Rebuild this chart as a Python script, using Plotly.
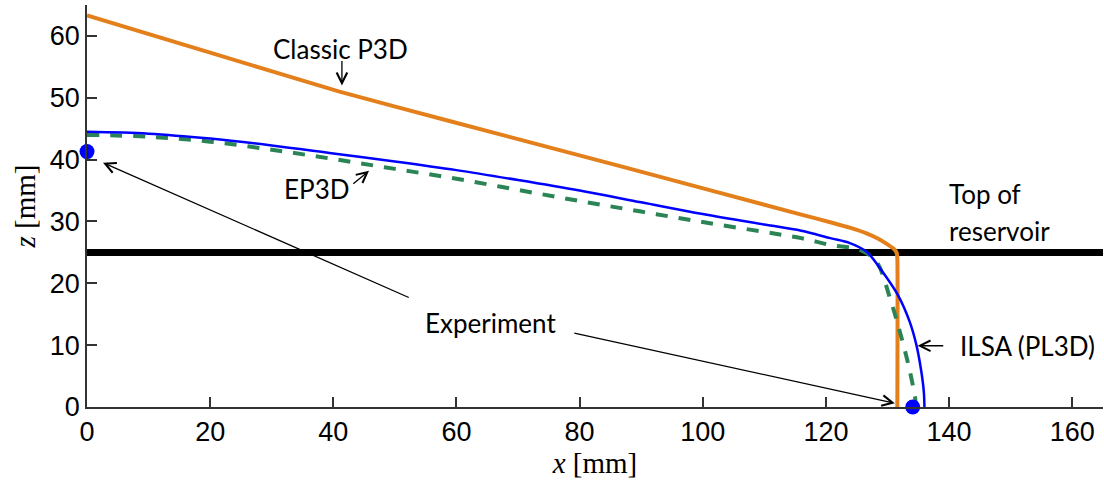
import plotly.graph_objects as go

# ---- data ----
classic_x = [0, 20, 41, 59, 87.5, 116, 121, 124, 126.5, 128.5, 130, 131, 131.5, 131.6, 131.6]
classic_z = [63.3, 57.3, 51.0, 46.2, 38.7, 31.1, 29.8, 28.95, 28.1, 27.2, 26.3, 25.6, 24.9, 24.0, 0]

ilsa_x = [0, 10, 20, 30, 40, 50, 60, 70, 80, 90, 100, 110, 116, 120.7, 123.9, 126.6, 128.8, 131.7, 133.6, 134.7, 135.5, 135.9, 136.0]
ilsa_z = [44.5, 44.2, 43.4, 42.3, 41.0, 39.7, 38.3, 36.7, 35.0, 33.1, 31.2, 29.5, 28.5, 27.3, 26.5, 25.1, 22.4, 18.1, 13.8, 10.0, 5.7, 2.5, 0]

ep3d_x = [0, 10, 20, 30, 40, 50, 60, 70, 80, 90, 100, 110, 116, 120.7, 125.5, 128.2, 130.4, 132.0, 133.4, 134.5, 134.6]
ep3d_z = [44.0, 43.7, 42.9, 41.6, 40.1, 38.5, 36.9, 35.1, 33.3, 31.6, 29.9, 28.3, 27.3, 26.2, 25.4, 23.5, 17.6, 12.2, 6.8, 1.4, 0]

experiment_x = [0, 134.1]
experiment_z = [41.3, 0]

reservoir_top_z = 25
x_span = [0, 165]

x_ticks = [0, 20, 40, 60, 80, 100, 120, 140, 160]
z_ticks = [0, 10, 20, 30, 40, 50, 60]

ORANGE = "#E3801B"
GREEN = "#2A8455"
BLUE = "#0000FF"

fig = go.Figure()

fig.add_trace(go.Scatter(x=x_span, y=[reservoir_top_z] * 2, mode="lines",
                         line=dict(color="black", width=7), showlegend=False,
                         hoverinfo="skip"))
fig.add_trace(go.Scatter(x=classic_x, y=classic_z, mode="lines", name="Classic P3D",
                         line=dict(color=ORANGE, width=4, shape="spline", smoothing=0.5),
                         showlegend=False))
fig.add_trace(go.Scatter(x=ep3d_x, y=ep3d_z, mode="lines", name="EP3D",
                         line=dict(color=GREEN, width=4, dash="12px,11px", shape="spline"),
                         showlegend=False))
fig.add_trace(go.Scatter(x=ilsa_x, y=ilsa_z, mode="lines", name="ILSA (PL3D)",
                         line=dict(color=BLUE, width=2.5, shape="spline"),
                         showlegend=False))
fig.add_trace(go.Scatter(x=experiment_x, y=experiment_z, mode="markers", name="Experiment",
                         marker=dict(color=BLUE, size=15), cliponaxis=False,
                         showlegend=False))

TF = dict(family="Lato, Open Sans, sans-serif", size=26, color="black")

def label(text, x, y, xanchor="center"):
    fig.add_annotation(x=x, y=y, text=text, showarrow=False, font=TF,
                       xanchor=xanchor, yanchor="middle")

def arrow(x0, y0, x1, y1):
    fig.add_annotation(x=x1, y=y1, ax=x0, ay=y0, axref="x", ayref="y",
                       xref="x", yref="y", text="", showarrow=True,
                       arrowhead=5, arrowsize=1.6, arrowwidth=1.3,
                       arrowcolor="black", standoff=0, startstandoff=0)

label("Classic P3D", 41.2, 57.9)
arrow(41.4, 56.2, 41.4, 52.0)
label("EP3D", 37.2, 35.2)
arrow(43.0, 35.9, 45.8, 38.2)
label("Top of", 139.7, 34.4, "left")
label("reservoir", 139.7, 28.5, "left")
label("ILSA (PL3D)", 141.4, 9.9, "left")
arrow(139.3, 9.9, 134.9, 9.9)
label("Experiment", 65.6, 13.6)
arrow(52.5, 17.6, 2.6, 39.5)
arrow(78.9, 12.0, 131.2, 0.6)

axis_common = dict(showline=True, linecolor="#333333", linewidth=1.5, mirror=False,
                   ticks="inside", ticklen=10, tickwidth=1.5, tickcolor="#333333",
                   showgrid=False, zeroline=False,
                   tickfont=dict(family="Liberation Sans, Arial, sans-serif", size=27, color="black"))

fig.update_xaxes(range=x_span, tickvals=x_ticks, **axis_common,
                 title=dict(text="<i>x</i> [mm]", standoff=4,
                            font=dict(family="Liberation Serif, serif", size=29, color="black")))
fig.update_yaxes(range=[0, 65], tickvals=z_ticks, **axis_common,
                 title=dict(text="<i>z</i> [mm]", standoff=6,
                            font=dict(family="Liberation Serif, serif", size=29, color="black")))

fig.update_layout(width=1104, height=481, plot_bgcolor="white", paper_bgcolor="white",
                  margin=dict(l=87, r=1, t=5, b=74), showlegend=False)

fig.write_html("out.html", config={"displayModeBar": False},
               post_script="document.body.style.margin='0';document.body.style.overflow='hidden';")
